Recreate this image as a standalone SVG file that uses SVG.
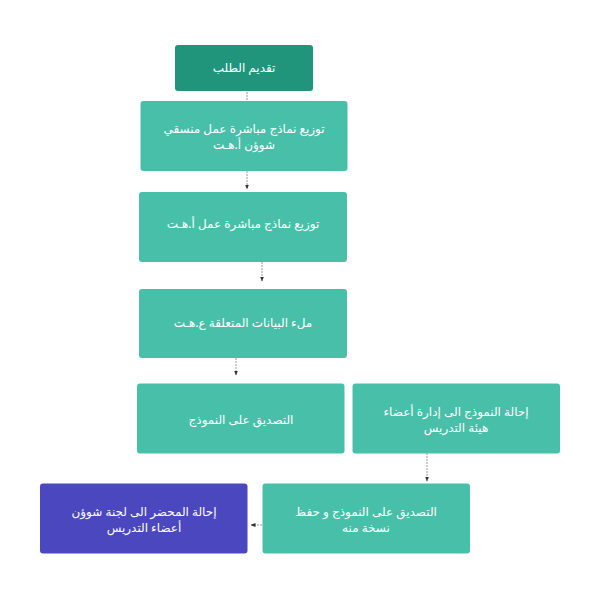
<svg xmlns="http://www.w3.org/2000/svg" width="600" height="600" viewBox="0 0 600 600">
<style>
.n{fill:#48bfa8;}
.d{fill:#21957c;}
.p{fill:#4b47bf;}
text{font-family:"Noto Sans","DejaVu Sans",sans-serif;font-size:12px;fill:#ffffff;text-anchor:middle;direction:rtl;dominant-baseline:central;}
.c{stroke:#999999;stroke-width:1;stroke-dasharray:2 1;fill:none;}
</style>
<defs>
<marker id="ar" viewBox="0 0 10 10" refX="9" refY="5" markerWidth="5" markerHeight="5" orient="auto">
<path d="M0,1 L10,5 L0,9 z" fill="#333333"/>
</marker>
</defs>
<rect width="600" height="600" fill="#ffffff"/>
<g id="connectors">
<line class="c" x1="247" y1="92" x2="247" y2="101"/>
<line class="c" x1="247" y1="171" x2="247" y2="189" marker-end="url(#ar)"/>
<line class="c" x1="262" y1="262" x2="262" y2="281" marker-end="url(#ar)"/>
<line class="c" x1="236" y1="358" x2="236" y2="375" marker-end="url(#ar)"/>
<line class="c" x1="427" y1="453" x2="427" y2="481" marker-end="url(#ar)"/>
<line class="c" x1="262" y1="525" x2="251" y2="525" marker-end="url(#ar)"/>
</g>
<g id="node1">
<rect class="d" x="175" y="45" width="138" height="46" rx="3"/>
<text x="244" y="67">تقديم الطلب</text>
</g>
<g id="node2">
<rect class="n" x="140.5" y="101" width="207" height="70" rx="3"/>
<text x="244" y="128">توزيع نماذج مباشرة عمل منسقي</text>
<text x="244" y="144">شوؤن أ.هـت</text>
</g>
<g id="node3">
<rect class="n" x="139" y="192" width="208" height="70" rx="3"/>
<text x="243" y="223">توزيع نماذج مباشرة عمل أ.هـت</text>
</g>
<g id="node4">
<rect class="n" x="139" y="289" width="208" height="69" rx="3"/>
<text x="243" y="322">ملء البيانات المتعلقة ع.هـت</text>
</g>
<g id="node5">
<rect class="n" x="137" y="383.5" width="207.5" height="70" rx="3"/>
<text x="241" y="419">التصديق على النموذج</text>
</g>
<g id="node6">
<rect class="n" x="352.5" y="383.5" width="207.5" height="70" rx="3"/>
<text x="456" y="411">إحالة النموذج الى إدارة أعضاء</text>
<text x="456" y="427">هيئة التدريس</text>
</g>
<g id="node7">
<rect class="n" x="262.5" y="483.5" width="207.5" height="70" rx="3"/>
<text x="366" y="511">التصديق على النموذج و حفظ</text>
<text x="366" y="527">نسخة منه</text>
</g>
<g id="node8">
<rect class="p" x="40" y="483.5" width="207.5" height="70" rx="3"/>
<text x="144" y="511">إحالة المحضر الى لجنة شوؤن</text>
<text x="144" y="527">أعضاء التدريس</text>
</g>
</svg>
